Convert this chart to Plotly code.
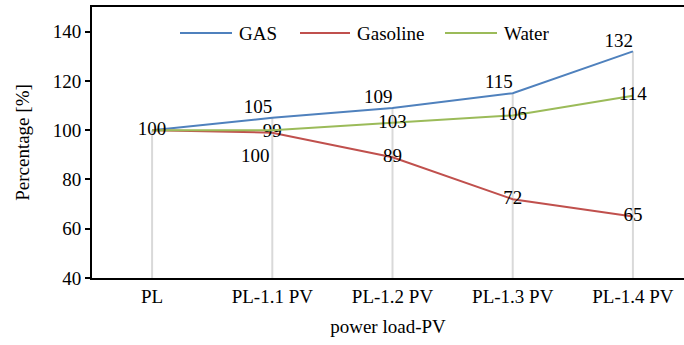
import plotly.graph_objects as go

categories = ["PL", "PL-1.1 PV", "PL-1.2 PV", "PL-1.3 PV", "PL-1.4 PV"]
gas = [100, 105, 109, 115, 132]
gasoline = [100, 99, 89, 72, 65]
water = [100, 100, 103, 106, 114]
names = ["GAS", "Gasoline", "Water"]
colors = ["#4F81BD", "#C0504D", "#9BBB59"]
y_ticks = [40, 60, 80, 100, 120, 140]

FONT = "Liberation Serif, Times New Roman, serif"
fs = 19
tf = dict(family=FONT, size=fs, color="black")

fig = go.Figure()

# drop lines from the highest value down to the axis
dx, dy = [], []
for i, c in enumerate(categories):
    dx += [c, c, None]
    dy += [40, max(gas[i], gasoline[i], water[i]), None]
fig.add_trace(go.Scatter(x=dx, y=dy, mode="lines", line=dict(color="#D9D9D9", width=2),
                         showlegend=False, hoverinfo="skip"))

gas_text = [""] + [str(v) for v in gas[1:]]
gasoline_text = [str(v) for v in gasoline]
gasoline_text[0] = ""
water_text = [str(v) for v in water]
water_text[0] = ""
water_text[1] = ""

series = [gas, gasoline, water]
texts = [gas_text, gasoline_text, water_text]
positions = ["top left", "middle center", "middle center"]
for s, t, p, n, c in zip(series, texts, positions, names, colors):
    fig.add_trace(go.Scatter(x=categories, y=s, name=n, mode="lines+text",
                             line=dict(color=c, width=2), text=t,
                             textposition=p, textfont=tf, showlegend=False))

# shared starting label
fig.add_trace(go.Scatter(x=[categories[0]], y=[gas[0]], mode="text", text=[str(gas[0])],
                         textposition="middle center", showlegend=False, textfont=tf))
# Water label at PL-1.1 placed below the lines
fig.add_annotation(x=categories[1], y=water[1], text=str(water[1]), showarrow=False,
                   xanchor="right", yanchor="middle", yshift=-25, font=tf)

# legend (drawn inside the plot area, top)
L, W, T, H = 92, 592, 7, 271
legend_line_x = [(180, 232), (300, 350), (445, 497)]
legend_y_px = 33
ly = (T + H - legend_y_px) / H
for (x0, x1), n, c in zip(legend_line_x, names, colors):
    fig.add_shape(type="line", xref="paper", yref="paper",
                  x0=(x0 - L) / W, x1=(x1 - L) / W, y0=ly, y1=ly,
                  line=dict(color=c, width=2))
    fig.add_annotation(xref="paper", yref="paper", x=(x1 + 5 - L) / W, y=ly, text=n,
                       showarrow=False, xanchor="left", yanchor="middle", font=tf)

fig.update_layout(
    width=684, height=345,
    margin=dict(l=L, r=0, t=T, b=345 - T - H),
    paper_bgcolor="white", plot_bgcolor="white",
    font=tf,
    showlegend=False,
    xaxis=dict(range=[-0.5, 4.425], showline=True, linecolor="black", linewidth=2,
               mirror=True, showgrid=False, ticks="", zeroline=False, tickfont=tf,
               title=dict(text="power load-PV", standoff=14, font=tf)),
    yaxis=dict(range=[40, 150], tickvals=y_ticks, showline=True, linecolor="black", linewidth=2,
               showgrid=False, ticks="outside", ticklen=5, tickwidth=1.5, tickcolor="black",
               zeroline=False, tickfont=tf,
               title=dict(text="Percentage [%]", standoff=18, font=tf)),
)

fig.write_html("out.html")
